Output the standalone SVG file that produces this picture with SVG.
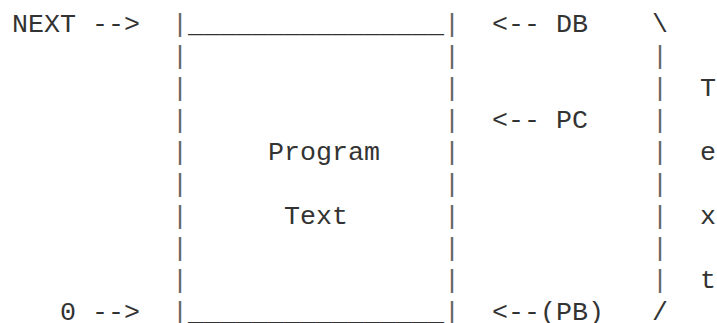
<svg xmlns="http://www.w3.org/2000/svg" width="717" height="323" viewBox="0 0 717 323">
<style>
text{font-family:"Liberation Mono","DejaVu Sans Mono",monospace;font-size:26.667px;fill:#333;white-space:pre}
.bar{fill:#666}
</style>
<rect width="717" height="323" fill="#fff"/>
<g id="memory-box">
<text x="172" y="32"><tspan class="bar">|</tspan>________________<tspan class="bar">|</tspan></text>
<text class="bar" x="172" y="64">|</text><text class="bar" x="444" y="64">|</text>
<text class="bar" x="172" y="96">|</text><text class="bar" x="444" y="96">|</text>
<text class="bar" x="172" y="128">|</text><text class="bar" x="444" y="128">|</text>
<text class="bar" x="172" y="160">|</text><text x="268" y="160">Program</text><text class="bar" x="444" y="160">|</text>
<text class="bar" x="172" y="192">|</text><text class="bar" x="444" y="192">|</text>
<text class="bar" x="172" y="224">|</text><text x="284" y="224">Text</text><text class="bar" x="444" y="224">|</text>
<text class="bar" x="172" y="256">|</text><text class="bar" x="444" y="256">|</text>
<text class="bar" x="172" y="288">|</text><text class="bar" x="444" y="288">|</text>
<text x="172" y="320"><tspan class="bar">|</tspan>________________<tspan class="bar">|</tspan></text>
</g>
<g id="next-label"><text x="12" y="32">NEXT</text></g>
<g id="zero-label"><text x="60" y="320">0</text></g>
<g id="db-label"><text x="556" y="32">DB</text></g>
<g id="pc-label"><text x="556" y="128">PC</text></g>
<g id="pb-label"><text x="540" y="320">(PB)</text></g>
<g id="text-brace">
<text x="652" y="32">\</text>
<text class="bar" x="652" y="64">|</text>
<text class="bar" x="652" y="96">|</text><text x="700" y="96">T</text>
<text class="bar" x="652" y="128">|</text>
<text class="bar" x="652" y="160">|</text><text x="700" y="160">e</text>
<text class="bar" x="652" y="192">|</text>
<text class="bar" x="652" y="224">|</text><text x="700" y="224">x</text>
<text class="bar" x="652" y="256">|</text>
<text class="bar" x="652" y="288">|</text><text x="700" y="288">t</text>
<text x="652" y="320">/</text>
</g>
<g id="connectors">
<text x="92" y="32">--&gt;</text>
<text x="92" y="320">--&gt;</text>
<text x="492" y="32">&lt;--</text>
<text x="492" y="128">&lt;--</text>
<text x="492" y="320">&lt;--</text>
</g>
</svg>
